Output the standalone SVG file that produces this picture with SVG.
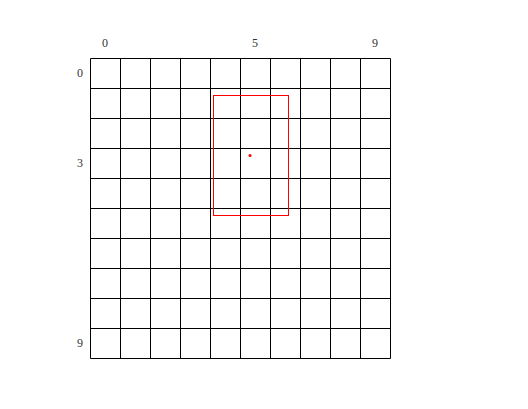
<svg xmlns="http://www.w3.org/2000/svg" width="528" height="409" viewBox="0 0 528 409">
<style>
.g{stroke:#000;stroke-width:1;fill:none}
.t{font-family:"Liberation Serif",serif;font-size:12px;fill:#333;text-anchor:middle}
</style>
<rect width="528" height="409" fill="#fff"/>
<g id="grid" class="g">
<path d="M90.5 58.5V358.5M120.5 58.5V358.5M150.5 58.5V358.5M180.5 58.5V358.5M210.5 58.5V358.5M240.5 58.5V358.5M270.5 58.5V358.5M300.5 58.5V358.5M330.5 58.5V358.5M360.5 58.5V358.5M390.5 58.5V358.5"/>
<path d="M90.5 58.5H390.5M90.5 88.5H390.5M90.5 118.5H390.5M90.5 148.5H390.5M90.5 178.5H390.5M90.5 208.5H390.5M90.5 238.5H390.5M90.5 268.5H390.5M90.5 298.5H390.5M90.5 328.5H390.5M90.5 358.5H390.5"/>
</g>
<g id="labels" class="t">
<text x="105" y="47">0</text>
<text x="255" y="47">5</text>
<text x="375" y="47">9</text>
<text x="80" y="77">0</text>
<text x="80" y="167">3</text>
<text x="80" y="347">9</text>
</g>
<g id="box">
<rect x="213.5" y="95.5" width="75" height="120" fill="none" stroke="#f00" stroke-width="1"/>
<circle cx="250" cy="155.5" r="1.5" fill="#f00"/>
</g>
</svg>
